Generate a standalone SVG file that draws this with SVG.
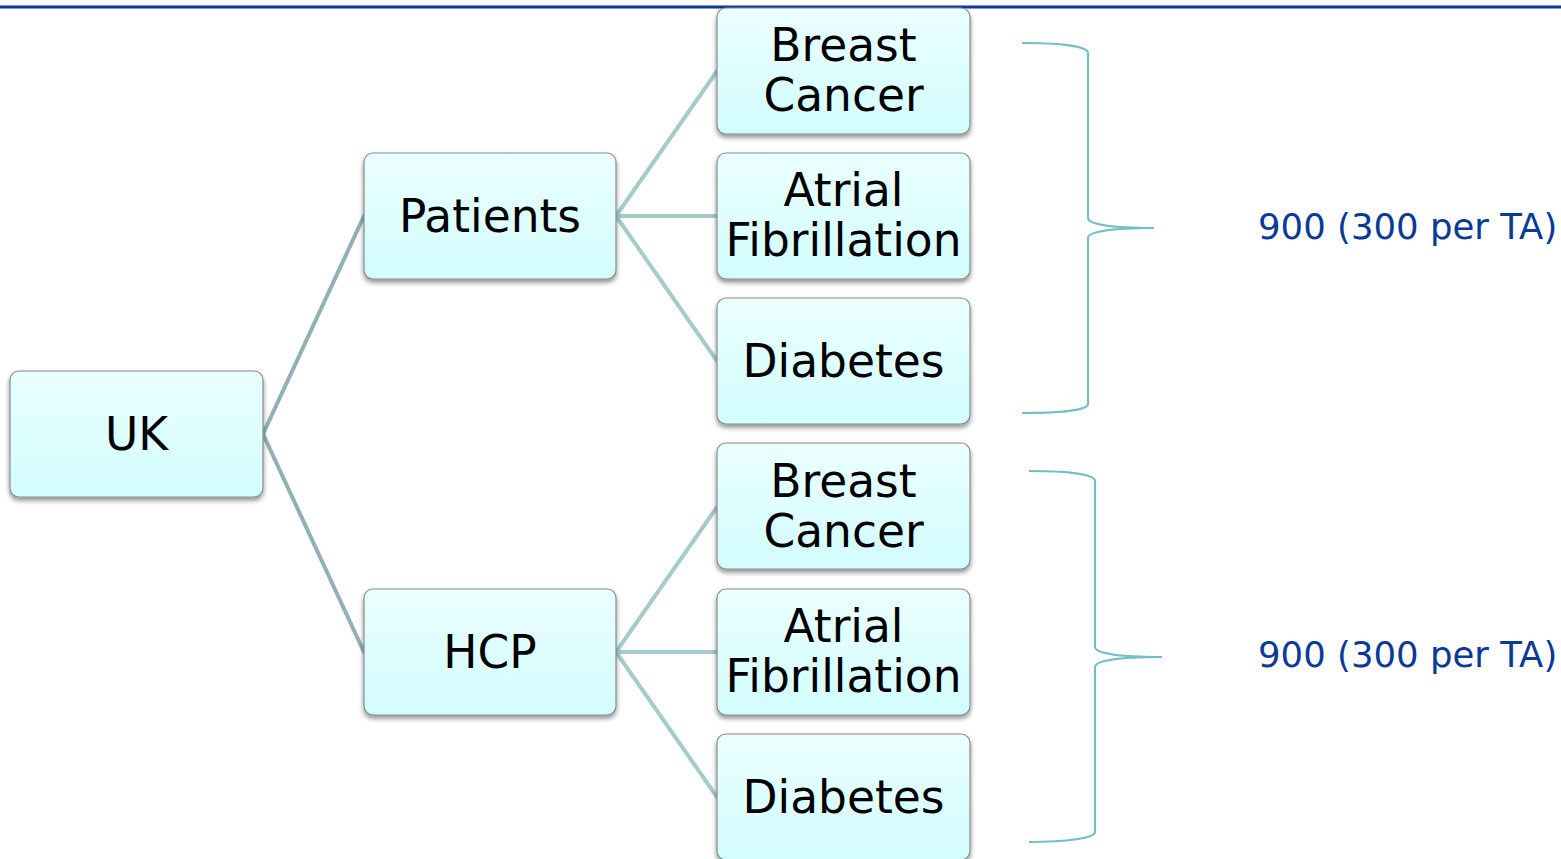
<svg xmlns="http://www.w3.org/2000/svg" width="1561" height="859" viewBox="0 0 1561 859">
<defs>
<linearGradient id="g" x1="0" y1="0" x2="0" y2="1">
<stop offset="0" stop-color="#ebffff"/>
<stop offset="1" stop-color="#d2fdff"/>
</linearGradient>
<filter id="sh" x="-10%" y="-10%" width="120%" height="130%">
<feGaussianBlur in="SourceAlpha" stdDeviation="2.5"/>
<feOffset dx="0" dy="3"/>
<feComponentTransfer><feFuncA type="linear" slope="0.45"/></feComponentTransfer>
<feMerge><feMergeNode/><feMergeNode in="SourceGraphic"/></feMerge>
</filter>
</defs>
<style>
.box{fill:url(#g);stroke:#8a8a8a;stroke-width:1.2;filter:url(#sh)}
.t{font-family:"DejaVu Sans",Verdana,sans-serif;font-size:45.5px;fill:#000;text-anchor:middle}
.c1{stroke:#92b0b5;stroke-width:4;fill:none;stroke-linecap:round}
.c2{stroke:#a6cbcd;stroke-width:4;fill:none;stroke-linecap:round}
.br{stroke:#72bfc6;stroke-width:2.2;fill:none}
.n{font-family:"DejaVu Sans",Verdana,sans-serif;font-size:35.5px;fill:#0a3a96}
</style>
<rect width="1561" height="859" fill="#fff"/>
<line x1="0" y1="7" x2="1561" y2="7" stroke="#0b3a97" stroke-width="3"/>
<g id="connectors">
<line class="c1" x1="263" y1="434" x2="364" y2="216"/>
<line class="c1" x1="263" y1="434" x2="364" y2="652"/>
<line class="c2" x1="616" y1="216" x2="717" y2="71"/>
<line class="c2" x1="616" y1="216" x2="717" y2="216"/>
<line class="c2" x1="616" y1="216" x2="717" y2="361"/>
<line class="c2" x1="616" y1="652" x2="717" y2="507"/>
<line class="c2" x1="616" y1="652" x2="717" y2="652"/>
<line class="c2" x1="616" y1="652" x2="717" y2="797"/>
</g>
<g id="uk"><rect class="box" x="10" y="371" width="253" height="126" rx="9"/><text class="t" x="136.5" y="450">UK</text></g>
<g id="patients"><rect class="box" x="364" y="153" width="252" height="126" rx="9"/><text class="t" x="490" y="232">Patients</text></g>
<g id="hcp"><rect class="box" x="364" y="589" width="252" height="126" rx="9"/><text class="t" x="490" y="668">HCP</text></g>
<g id="p-bc"><rect class="box" x="717" y="8" width="253" height="126" rx="9"/><text class="t" x="843.5" y="61">Breast</text><text class="t" x="843.5" y="111">Cancer</text></g>
<g id="p-af"><rect class="box" x="717" y="153" width="253" height="126" rx="9"/><text class="t" x="843.5" y="206">Atrial</text><text class="t" x="843.5" y="256">Fibrillation</text></g>
<g id="p-db"><rect class="box" x="717" y="298" width="253" height="126" rx="9"/><text class="t" x="843.5" y="377">Diabetes</text></g>
<g id="h-bc"><rect class="box" x="717" y="443" width="253" height="126" rx="9"/><text class="t" x="843.5" y="497">Breast</text><text class="t" x="843.5" y="547">Cancer</text></g>
<g id="h-af"><rect class="box" x="717" y="589" width="253" height="126" rx="9"/><text class="t" x="843.5" y="642">Atrial</text><text class="t" x="843.5" y="692">Fibrillation</text></g>
<g id="h-db"><rect class="box" x="717" y="734" width="253" height="126" rx="9"/><text class="t" x="843.5" y="813">Diabetes</text></g>
<g id="braces">
<path class="br" d="M1022,43 C1060,43 1088,46 1088,53 L1088,218 C1088,224 1110,228 1154,228 C1110,228 1088,232 1088,238 L1088,404 C1088,410 1060,413 1022,413"/>
<path class="br" d="M1029,471 C1067,471 1095,474 1095,481 L1095,647 C1095,653 1117,657 1162,657 C1117,657 1095,661 1095,667 L1095,832 C1095,838 1067,842 1029,842"/>
</g>
<g id="labels">
<text class="n" x="1258" y="239">900 (300 per TA)</text>
<text class="n" x="1258" y="667">900 (300 per TA)</text>
</g>
</svg>
